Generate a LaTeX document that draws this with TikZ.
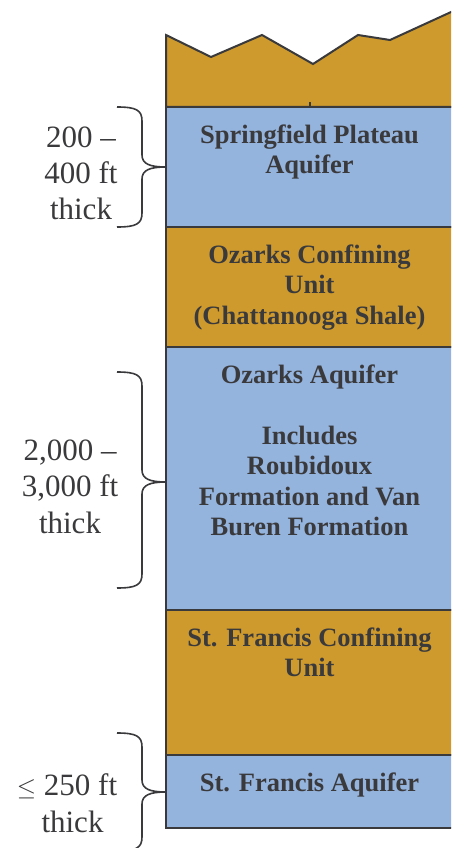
\documentclass[tikz,border=0pt]{standalone}
\usepackage{fontspec}
\setmainfont{Liberation Serif}
\definecolor{rock}{HTML}{CE9A2E}
\definecolor{water}{HTML}{94B3DD}
\definecolor{ink}{HTML}{3A3A3C}
\tikzset{
  layer/.style={draw=ink, line width=2pt, line join=miter},
  unitname/.style={font=\fontsize{26.5}{30.5}\selectfont\bfseries, text=ink, anchor=base, inner sep=0pt},
  thickness/.style={font=\fontsize{31}{36}\selectfont, text=ink, anchor=base, inner sep=0pt},
  bracepath/.style={draw=ink, line width=1.6pt},
}
% curly brace on the left of the column: top y, tip y, bottom y
\newcommand{\layerbrace}[3]{%
  \draw[bracepath] (117,#1) .. controls (136,#1) and (142,#1+3) .. (142,#1+14)
    -- (142,#2-12) .. controls (142,#2-3) and (150,#2) .. (166,#2)
    .. controls (150,#2) and (142,#2+3) .. (142,#2+12)
    -- (142,#3-14) .. controls (142,#3-3) and (136,#3) .. (117,#3);}
\begin{document}
\begin{tikzpicture}[x=1pt, y=-1pt]
  \clip (0,0) rectangle (451,848);
  \fill[white] (0,0) rectangle (451,848);

  % weathered surface layer with jagged top
  \draw[layer, fill=rock] (166,107) -- (166,35) -- (211,57) -- (262,35) -- (313,64)
    -- (358,35) -- (390,40) -- (462,7) -- (462,107) -- cycle;
  \draw[draw=ink, line width=1.5pt] (310,102) -- (310,107);

  % stratigraphic column
  \draw[layer, fill=water] (166,107) rectangle (462,227);
  \draw[layer, fill=rock]  (166,227) rectangle (462,347);
  \draw[layer, fill=water] (166,347) rectangle (462,610);
  \draw[layer, fill=rock]  (166,610) rectangle (462,755);
  \draw[layer, fill=water] (166,755) rectangle (462,828);

  % unit names
  \node[unitname] (spa1) at (309.5,143) {Springfield Plateau};
  \node[unitname] (spa2) at (309.5,173) {Aquifer};

  \node[unitname] (ocu1) at (309.5,263) {Ozarks Confining};
  \node[unitname] (ocu2) at (309.5,293.5) {Unit};
  \node[unitname] (ocu3) at (309.5,324) {(Chattanooga Shale)};

  \node[unitname] (oza1) at (309.5,383.3) {Ozarks Aquifer};
  \node[unitname] (oza2) at (309.5,444.3) {Includes};
  \node[unitname] (oza3) at (309.5,474.8) {Roubidoux};
  \node[unitname] (oza4) at (309.5,505.3) {Formation and Van};
  \node[unitname] (oza5) at (309.5,535.8) {Buren Formation};

  \node[unitname] (sfc1) at (309.5,646) {St. Francis Confining};
  \node[unitname] (sfc2) at (309.5,676.5) {Unit};

  \node[unitname] (sfa1) at (309.5,791) {St. Francis Aquifer};

  % thickness braces and labels
  \layerbrace{107}{167}{227}
  \node[thickness] (t1a) at (81,147) {200 --};
  \node[thickness] (t1b) at (81,183) {400 ft};
  \node[thickness] (t1c) at (81,219) {thick};

  \layerbrace{372}{482}{588}
  \node[thickness] (t2a) at (70,460) {2,000 --};
  \node[thickness] (t2b) at (70,496.5) {3,000 ft};
  \node[thickness] (t2c) at (70,533) {thick};

  \layerbrace{733}{792}{851}
  \node[thickness] (t3a) at (67,795) {$\leq$ 250 ft};
  \node[thickness] (t3b) at (72.5,832) {thick};
\end{tikzpicture}
\end{document}
